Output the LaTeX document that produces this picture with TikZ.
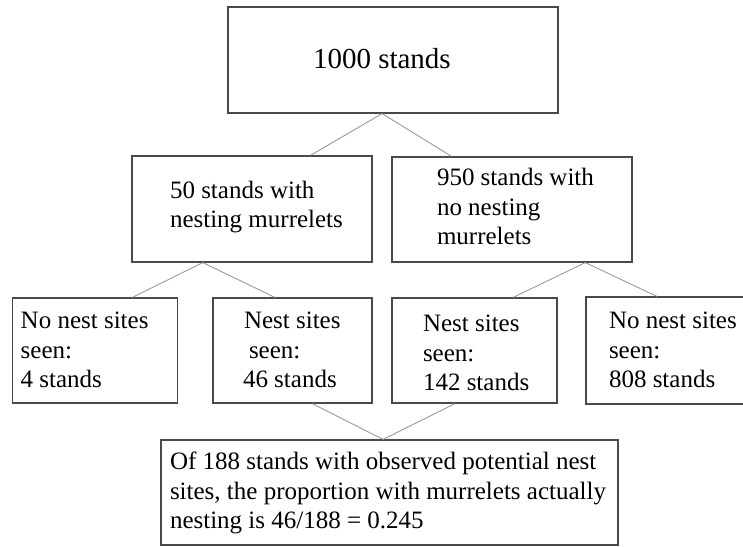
\documentclass[tikz,border=0pt]{standalone}
\usepackage{fontspec}
\setmainfont{Liberation Serif}
\usetikzlibrary{calc}
\definecolor{boxline}{HTML}{4A4A4A}
\definecolor{connline}{HTML}{9A9A9A}
\newcommand\btxt[4][0]{\raisebox{-#1pt}[\height][\depth]{\makebox[#3pt][l]{\hspace*{#2pt}\begin{tabular}{@{}l@{}}#4\end{tabular}}}}
\begin{document}
\begin{tikzpicture}[x=1pt,y=-1pt,
  boxnode/.style={draw=boxline, line width=1.2pt, rectangle, inner sep=0pt,
    font=\fontsize{25}{29.5}\selectfont},
  conn/.style={draw=connline, line width=0.9pt}]
\useasboundingbox (0,0) rectangle (743,546);

\node[boxnode, minimum height=106pt, font=\fontsize{29}{33}\selectfont] (top) at (393,60)
  {\btxt[1.5]{85}{330}{1000 stands}};

\node[boxnode, minimum height=106pt] (ml) at (252,209)
  {\btxt{38}{240}{50 stands with\\nesting murrelets\\[4pt]}};
\node[boxnode, minimum height=105pt] (mr) at (512,209.5)
  {\btxt{45}{240}{950 stands with\\no nesting\\murrelets}};

\node[boxnode, minimum height=105pt] (b1) at (95.2,350.5)
  {\btxt[2]{8}{165}{No nest sites\\seen:\\4 stands}};
\node[boxnode, minimum height=105pt] (b2) at (292.5,350.5)
  {\btxt[2]{30}{159}{\hspace*{1pt}Nest sites\\\hspace*{6pt}seen:\\46 stands}};
\node[boxnode, minimum height=105pt] (b3) at (474.5,350.5)
  {\btxt[5]{31}{165}{Nest sites\\seen:\\142 stands}};
\node[boxnode, minimum height=107pt] (b4) at (668.5,350.5)
  {\btxt[2]{23}{165}{No nest sites\\seen:\\808 stands}};

\node[boxnode, minimum height=105pt] (res) at (389.5,492.5)
  {\btxt[1]{9}{457}{Of 188 stands with observed potential nest\\sites, the proportion with murrelets actually\\nesting is 46/188 = 0.245}};

\draw[conn] ($(top.south west)!0.467!(top.south east)$) -- ($(ml.north west)!0.742!(ml.north east)$);
\draw[conn] ($(top.south west)!0.467!(top.south east)$) -- ($(mr.north west)!0.25!(mr.north east)$);

\draw[conn] ($(ml.south west)!0.296!(ml.south east)$) -- ($(b1.north west)!0.723!(b1.north east)$);
\draw[conn] ($(ml.south west)!0.296!(ml.south east)$) -- ($(b2.north west)!0.39!(b2.north east)$);

\draw[conn] ($(mr.south west)!0.804!(mr.south east)$) -- ($(b3.north west)!0.733!(b3.north east)$);
\draw[conn] ($(mr.south west)!0.804!(mr.south east)$) -- ($(b4.north west)!0.43!(b4.north east)$);

\draw[conn] ($(b2.south west)!0.623!(b2.south east)$) -- ($(res.north west)!0.486!(res.north east)$);
\draw[conn] ($(b3.south west)!0.382!(b3.south east)$) -- ($(res.north west)!0.486!(res.north east)$);
\end{tikzpicture}
\end{document}
